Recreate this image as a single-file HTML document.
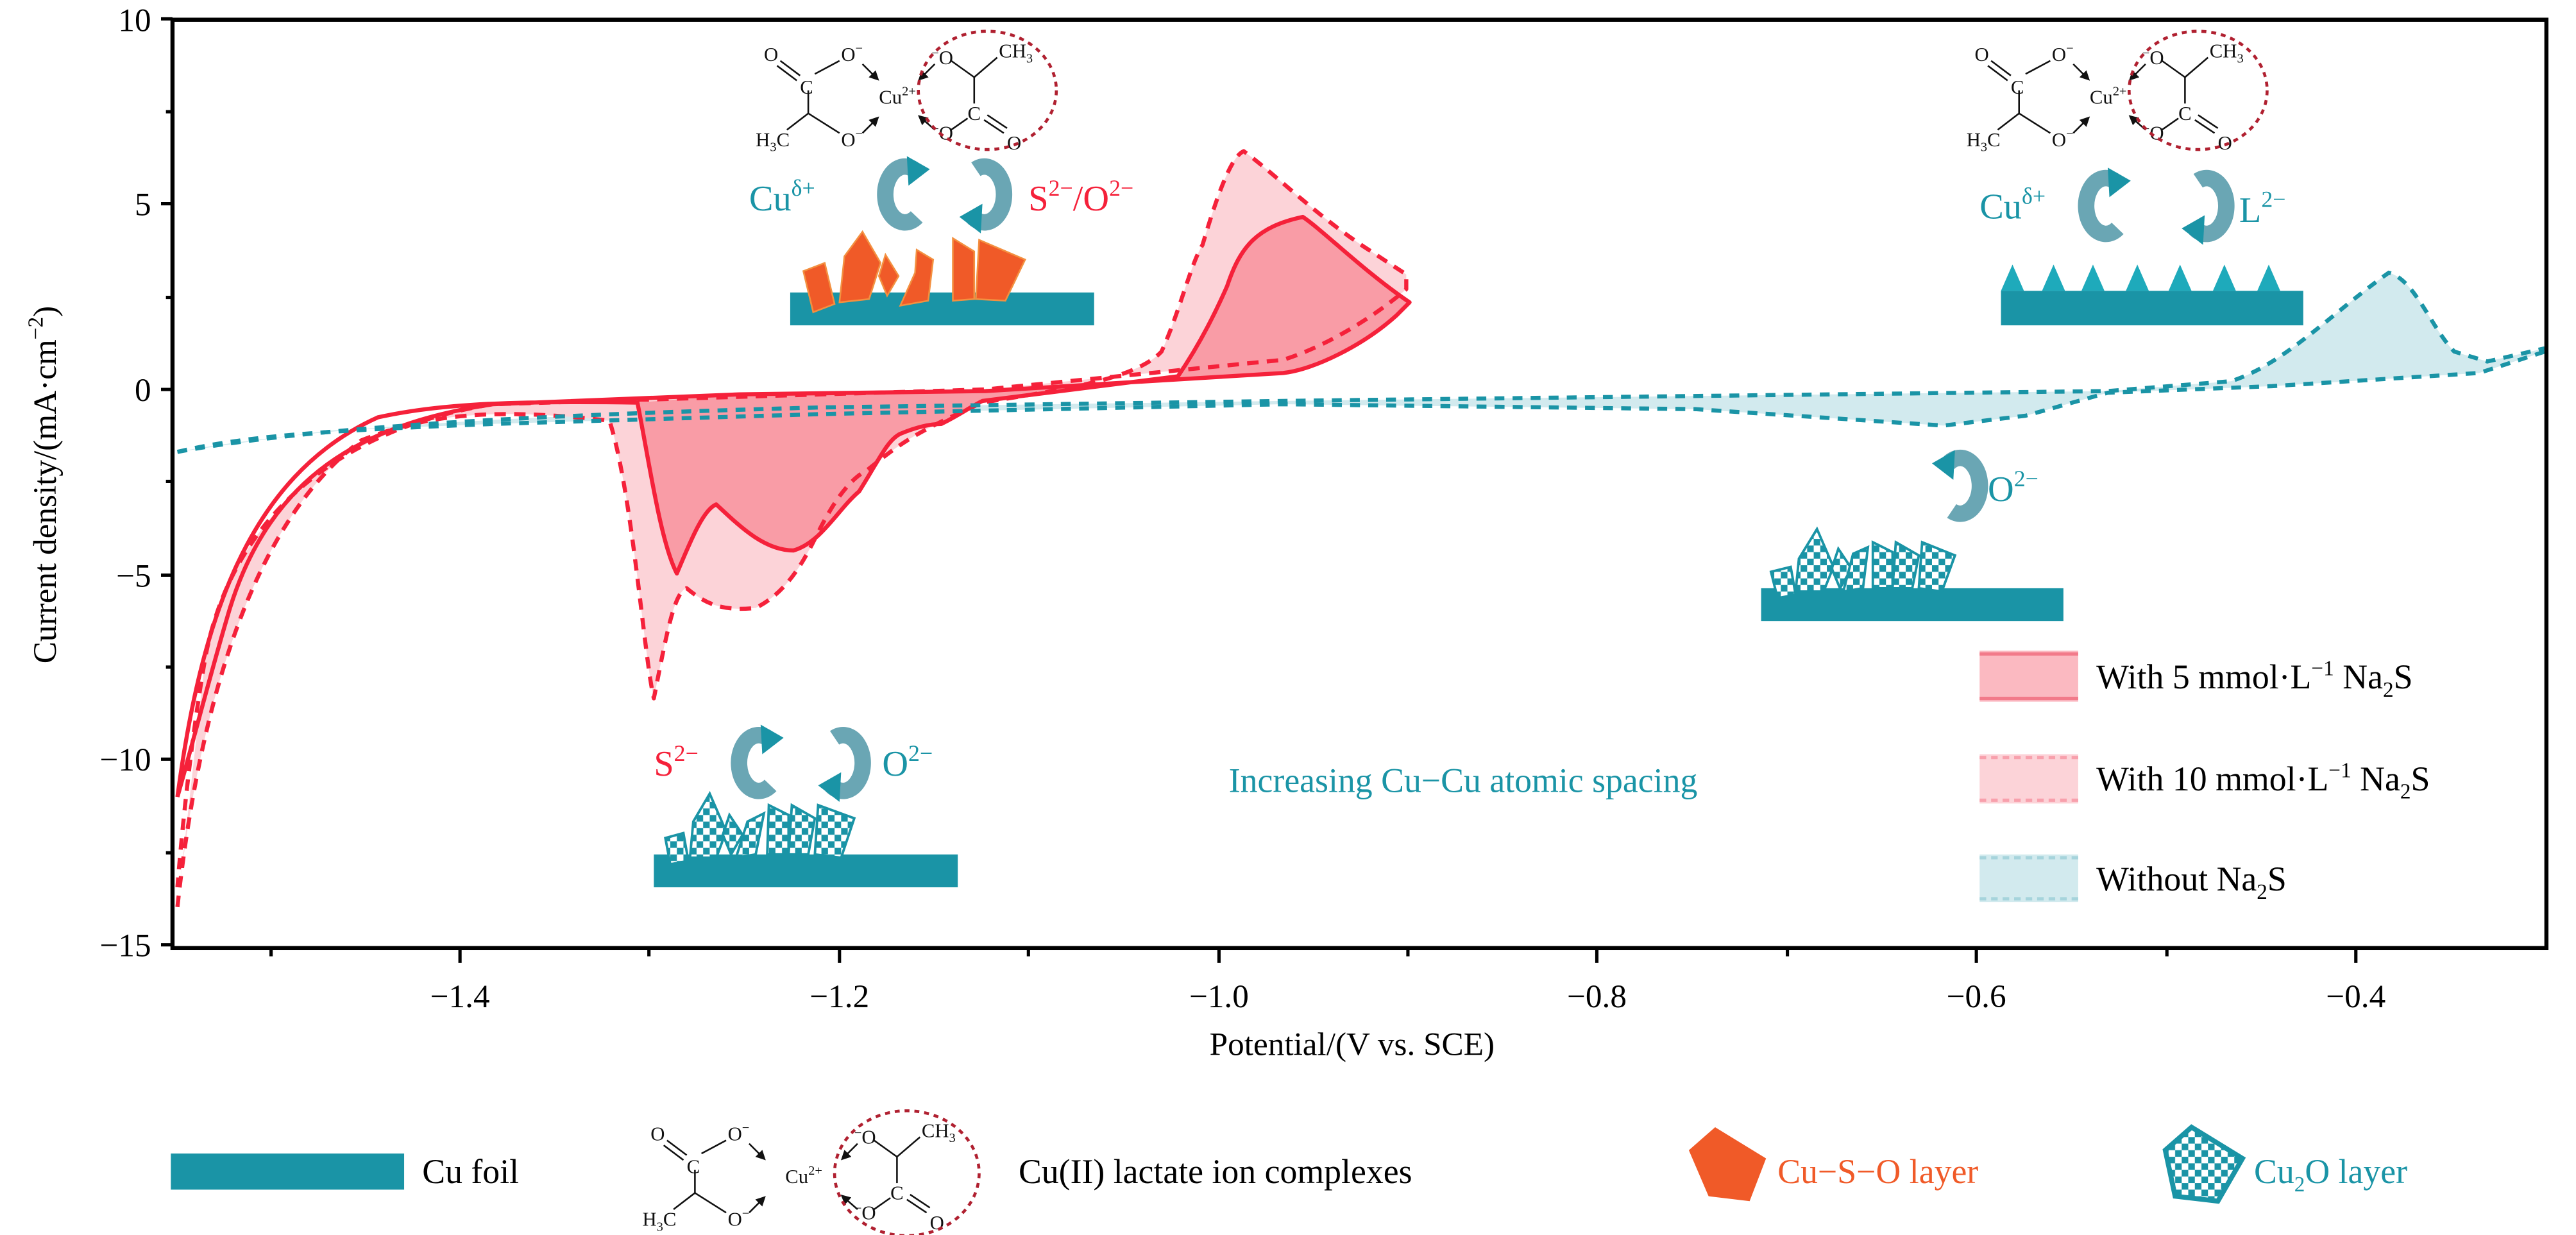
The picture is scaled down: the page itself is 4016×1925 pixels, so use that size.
<!DOCTYPE html>
<html><head><meta charset="utf-8"><style>
html,body{margin:0;padding:0;background:#fff}
svg{display:block}
svg text{font-family:"Liberation Serif","Times New Roman",serif}
</style></head><body>
<svg width="4016" height="1925" viewBox="0 0 4016 1925" xmlns="http://www.w3.org/2000/svg" font-family="Liberation Serif, serif">
<defs>
<pattern id="chk" width="8" height="8" patternUnits="userSpaceOnUse">
<rect width="8" height="8" fill="#fff"/><rect width="4" height="4" fill="#1a94a6"/><rect x="4" y="4" width="4" height="4" fill="#1a94a6"/>
</pattern>
<marker id="ah" markerWidth="6" markerHeight="6" refX="3" refY="3" orient="auto"><path d="M0,0L6,3L0,6z" fill="#111"/></marker>
</defs>
<g transform="scale(2.5612)">
<!-- fills -->
<path d="M108,275 C200,258 350,252 498,248 L781,244 L1283,238 L1358,232 C1390,222 1420,190 1454,166 C1470,170 1480,200 1494,214 L1514,220 L1549,212 L1549,214 L1509,227 L1383,235 L1283,239 L1233,253 L1183,259 L1032,249 L781,246 L500,252 L300,258 L200,262 Z" fill="#d2eaee"/>
<path d="M108,552 C120,440 150,320 220,268 C260,252 300,248 371,256 C385,300 392,400 398,425 C405,390 410,360 418,358 C430,368 440,372 460,370 C480,360 490,340 498,324 C510,300 520,290 528,286 C550,268 560,262 598,245 C640,238 690,232 707,214 C718,190 725,160 732,149 C742,115 750,95 757,92 C775,105 800,130 830,150 L856,167 L856,176 C840,190 810,210 781,219 L600,237 L300,246 C200,262 140,320 125,400 Z" fill="#fcd3d8"/>
<path d="M388,245 C395,280 402,330 412,349 C420,330 428,310 436,307 C450,320 465,335 483,335 C500,330 510,310 523,299 C535,280 540,268 548,264 C560,259 568,258 573,258 C585,252 590,248 598,244 L717,229 C730,210 740,190 747,174 C755,150 765,138 793,132 C805,140 830,165 858,184 L850,192 C830,210 800,225 781,227 L600,238 L450,240 Z" fill="#f99ca6"/>
<!-- curves -->
<g fill="none" stroke="#f5213a" stroke-width="2.5" stroke-linejoin="round">
<path d="M108,485 C122,380 150,290 230,254 C270,245 320,244 388,245 C395,280 402,330 412,349 C420,330 428,310 436,307 C450,320 465,335 483,335 C500,330 510,310 523,299 C535,280 540,268 548,264 C560,259 568,258 573,258 C585,252 590,248 598,244 L717,229 C730,210 740,190 747,174 C755,150 765,138 793,132 C805,140 830,165 858,184 L850,192 C830,210 800,225 781,227 L600,238 L450,240 L300,246 C220,258 165,290 140,370 C128,410 118,450 108,485"/>
</g>
<g fill="none" stroke="#f5213a" stroke-width="2.5" stroke-dasharray="7,5" stroke-linejoin="round">
<path d="M108,552 C120,440 150,320 220,268 C260,252 300,248 371,256 C385,300 392,400 398,425 C405,390 410,360 418,358 C430,368 440,372 460,370 C480,360 490,340 498,324 C510,300 520,290 528,286 C550,268 560,262 598,245 C640,238 690,232 707,214 C718,190 725,160 732,149 C742,115 750,95 757,92 C775,105 800,130 830,150 L856,167 L856,176 C840,190 810,210 781,219 L600,237 L300,246 C200,262 140,320 125,400 C118,440 112,490 108,540"/>
</g>
<g fill="none" stroke="#1a94a6" stroke-width="2.5" stroke-dasharray="6,5">
<path d="M108,275 C200,258 350,252 498,248 L781,244 L1283,238 L1358,232 C1390,222 1420,190 1454,166 C1470,170 1480,200 1494,214 L1514,220 L1549,212"/>
<path d="M108,275 C150,265 200,262 300,258 L500,252 L781,246 L1032,249 L1183,259 L1233,253 L1283,239 L1383,235 L1509,227 L1549,214"/>
</g>
<!-- axes -->
<rect x="105" y="12" width="1445" height="565" fill="none" stroke="#000" stroke-width="2.5"/>
<g stroke="#000" stroke-width="2">
<line x1="105" y1="11.5" x2="98" y2="11.5"/><line x1="105" y1="124" x2="98" y2="124"/><line x1="105" y1="237" x2="98" y2="237"/><line x1="105" y1="350" x2="98" y2="350"/><line x1="105" y1="462" x2="98" y2="462"/><line x1="105" y1="575" x2="98" y2="575"/>
<line x1="105" y1="68" x2="101" y2="68"/><line x1="105" y1="181" x2="101" y2="181"/><line x1="105" y1="293" x2="101" y2="293"/><line x1="105" y1="406" x2="101" y2="406"/><line x1="105" y1="519" x2="101" y2="519"/>
<line x1="280" y1="577" x2="280" y2="586"/><line x1="511" y1="577" x2="511" y2="586"/><line x1="742" y1="577" x2="742" y2="586"/><line x1="972" y1="577" x2="972" y2="586"/><line x1="1203" y1="577" x2="1203" y2="586"/><line x1="1434" y1="577" x2="1434" y2="586"/>
<line x1="165" y1="577" x2="165" y2="582"/><line x1="395" y1="577" x2="395" y2="582"/><line x1="626" y1="577" x2="626" y2="582"/><line x1="857" y1="577" x2="857" y2="582"/><line x1="1088" y1="577" x2="1088" y2="582"/><line x1="1319" y1="577" x2="1319" y2="582"/>
</g>
<g font-size="20" text-anchor="end" fill="#000">
<text x="92" y="19">10</text><text x="92" y="131">5</text><text x="92" y="244">0</text><text x="92" y="357">−5</text><text x="92" y="469">−10</text><text x="92" y="582">−15</text>
</g>
<g font-size="20" text-anchor="middle" fill="#000">
<text x="280" y="613">−1.4</text><text x="511" y="613">−1.2</text><text x="742" y="613">−1.0</text><text x="972" y="613">−0.8</text><text x="1203" y="613">−0.6</text><text x="1434" y="613">−0.4</text>
<text x="823" y="642">Potential/(V vs. SCE)</text>
<text transform="translate(34,295) rotate(-90)">Current density/(mA·cm<tspan dy="-8" font-size="13">−2</tspan><tspan dy="8">)</tspan></text>
</g>

<!-- molecule 1 -->
<g transform="translate(465,17)" font-size="12" fill="#111">
<g stroke="#111" stroke-width="1" fill="none">
<line x1="10" y1="20" x2="22" y2="29"/><line x1="8" y1="23" x2="20" y2="32"/>
<line x1="31" y1="28" x2="46" y2="20"/><line x1="27" y1="38" x2="27" y2="52"/>
<line x1="27" y1="52" x2="14" y2="62"/><line x1="27" y1="52" x2="46" y2="64"/>
<line x1="60" y1="22" x2="68" y2="30" marker-end="url(#ah)"/><line x1="60" y1="64" x2="68" y2="56" marker-end="url(#ah)"/>
<line x1="104" y1="22" x2="96" y2="30" marker-end="url(#ah)"/><line x1="104" y1="62" x2="96" y2="55" marker-end="url(#ah)"/>
<line x1="114" y1="20" x2="128" y2="30"/><line x1="128" y1="30" x2="142" y2="18"/><line x1="128" y1="30" x2="128" y2="46"/>
<line x1="114" y1="62" x2="124" y2="55"/><line x1="134" y1="56" x2="146" y2="64"/><line x1="136" y1="53" x2="148" y2="61"/>
</g>
<text x="0" y="20">O</text><text x="22" y="40">C</text><text x="47" y="20">O<tspan dy="-5" font-size="8">−</tspan></text>
<text x="-5" y="72">H<tspan dy="3" font-size="8">3</tspan><tspan dy="-3">C</tspan></text><text x="47" y="72">O<tspan dy="-5" font-size="8">−</tspan></text>
<text x="70" y="46">Cu<tspan dy="-5" font-size="8">2+</tspan></text>
<text x="102" y="22"><tspan font-size="8" dy="-4">−</tspan><tspan dy="4">O</tspan></text><text x="143" y="18">CH<tspan dy="3" font-size="8">3</tspan></text>
<text x="102" y="68"><tspan font-size="8" dy="-4">−</tspan><tspan dy="4">O</tspan></text><text x="124" y="56">C</text><text x="148" y="74">O</text>
<ellipse cx="136" cy="38" rx="42" ry="36" fill="none" stroke="#b02030" stroke-width="1.8" stroke-dasharray="3,3"/>
</g>
<!-- molecule 2 -->
<g transform="translate(1202,17)" font-size="12" fill="#111">
<g stroke="#111" stroke-width="1" fill="none">
<line x1="10" y1="20" x2="22" y2="29"/><line x1="8" y1="23" x2="20" y2="32"/>
<line x1="31" y1="28" x2="46" y2="20"/><line x1="27" y1="38" x2="27" y2="52"/>
<line x1="27" y1="52" x2="14" y2="62"/><line x1="27" y1="52" x2="46" y2="64"/>
<line x1="60" y1="22" x2="68" y2="30" marker-end="url(#ah)"/><line x1="60" y1="64" x2="68" y2="56" marker-end="url(#ah)"/>
<line x1="104" y1="22" x2="96" y2="30" marker-end="url(#ah)"/><line x1="104" y1="62" x2="96" y2="55" marker-end="url(#ah)"/>
<line x1="114" y1="20" x2="128" y2="30"/><line x1="128" y1="30" x2="142" y2="18"/><line x1="128" y1="30" x2="128" y2="46"/>
<line x1="114" y1="62" x2="124" y2="55"/><line x1="134" y1="56" x2="146" y2="64"/><line x1="136" y1="53" x2="148" y2="61"/>
</g>
<text x="0" y="20">O</text><text x="22" y="40">C</text><text x="47" y="20">O<tspan dy="-5" font-size="8">−</tspan></text>
<text x="-5" y="72">H<tspan dy="3" font-size="8">3</tspan><tspan dy="-3">C</tspan></text><text x="47" y="72">O<tspan dy="-5" font-size="8">−</tspan></text>
<text x="70" y="46">Cu<tspan dy="-5" font-size="8">2+</tspan></text>
<text x="102" y="22"><tspan font-size="8" dy="-4">−</tspan><tspan dy="4">O</tspan></text><text x="143" y="18">CH<tspan dy="3" font-size="8">3</tspan></text>
<text x="102" y="68"><tspan font-size="8" dy="-4">−</tspan><tspan dy="4">O</tspan></text><text x="124" y="56">C</text><text x="148" y="74">O</text>
<ellipse cx="136" cy="38" rx="42" ry="36" fill="none" stroke="#b02030" stroke-width="1.8" stroke-dasharray="3,3"/>
</g>
<!-- molecule 3 (legend) -->
<g transform="translate(396,674)" font-size="12" fill="#111">
<g stroke="#111" stroke-width="1" fill="none">
<line x1="10" y1="20" x2="22" y2="29"/><line x1="8" y1="23" x2="20" y2="32"/>
<line x1="31" y1="28" x2="46" y2="20"/><line x1="27" y1="38" x2="27" y2="52"/>
<line x1="27" y1="52" x2="14" y2="62"/><line x1="27" y1="52" x2="46" y2="64"/>
<line x1="60" y1="22" x2="68" y2="30" marker-end="url(#ah)"/><line x1="60" y1="64" x2="68" y2="56" marker-end="url(#ah)"/>
<line x1="126" y1="22" x2="118" y2="30" marker-end="url(#ah)"/><line x1="126" y1="62" x2="118" y2="55" marker-end="url(#ah)"/>
<line x1="136" y1="20" x2="150" y2="30"/><line x1="150" y1="30" x2="164" y2="18"/><line x1="150" y1="30" x2="150" y2="46"/>
<line x1="136" y1="62" x2="146" y2="55"/><line x1="156" y1="56" x2="168" y2="64"/><line x1="158" y1="53" x2="170" y2="61"/>
</g>
<text x="0" y="20">O</text><text x="22" y="40">C</text><text x="47" y="20">O<tspan dy="-5" font-size="8">−</tspan></text>
<text x="-5" y="72">H<tspan dy="3" font-size="8">3</tspan><tspan dy="-3">C</tspan></text><text x="47" y="72">O<tspan dy="-5" font-size="8">−</tspan></text>
<text x="82" y="46">Cu<tspan dy="-5" font-size="8">2+</tspan></text>
<text x="124" y="22"><tspan font-size="8" dy="-4">−</tspan><tspan dy="4">O</tspan></text><text x="165" y="18">CH<tspan dy="3" font-size="8">3</tspan></text>
<text x="124" y="68"><tspan font-size="8" dy="-4">−</tspan><tspan dy="4">O</tspan></text><text x="146" y="56">C</text><text x="170" y="74">O</text>
<ellipse cx="156" cy="40" rx="44" ry="38" fill="none" stroke="#b02030" stroke-width="1.8" stroke-dasharray="3,3"/>
</g>

<!-- curved arrows -->
<g fill="none" stroke="#6aa6b4" stroke-width="10" stroke-linecap="butt">
<path d="M556,103 A12,17 0 1 0 558,132"/><path d="M592,132 A12,17 0 1 0 594,103"/>
<path d="M1287,110 A12,17 0 1 0 1289,139"/><path d="M1336,139 A12,17 0 1 0 1338,110"/>
<path d="M1186,282 A12,17 0 1 1 1188,311"/>
<path d="M467,449 A12,17 0 1 0 469,478"/><path d="M506,478 A12,17 0 1 0 508,449"/>
</g>
<g fill="#1a94a6">
<path d="M552,95 L566,103 L553,113z"/><path d="M598,124 L584,132 L597,142z"/>
<path d="M1283,102 L1297,110 L1284,120z"/><path d="M1342,131 L1328,139 L1341,149z"/>
<path d="M1190,274 L1176,282 L1189,292z"/>
<path d="M463,441 L477,449 L464,459z"/><path d="M512,470 L498,478 L511,488z"/>
</g>
<!-- ion labels -->
<g font-size="22">
<text x="456" y="128" fill="#1a94a6">Cu<tspan dy="-9" font-size="14">δ+</tspan></text>
<text x="626" y="128" fill="#f5213a">S<tspan dy="-9" font-size="14">2−</tspan><tspan dy="9">/O</tspan><tspan dy="-9" font-size="14">2−</tspan></text>
<text x="1205" y="133" fill="#1a94a6">Cu<tspan dy="-9" font-size="14">δ+</tspan></text>
<text x="1363" y="135" fill="#1a94a6">L<tspan dy="-9" font-size="14">2−</tspan></text>
<text x="1210" y="305" fill="#1a94a6">O<tspan dy="-9" font-size="14">2−</tspan></text>
<text x="398" y="472" fill="#f5213a">S<tspan dy="-9" font-size="14">2−</tspan></text>
<text x="537" y="472" fill="#1a94a6">O<tspan dy="-9" font-size="14">2−</tspan></text>
<text x="748" y="482" fill="#1a94a6" font-size="21">Increasing Cu−Cu atomic spacing</text>
</g>
<!-- bars & crystals -->
<rect x="481" y="178" width="185" height="20" fill="#1a94a6"/>
<g fill="#f05a28" stroke="#f39040" stroke-width="1">
<polygon points="489,165 502,160 508,185 495,190"/><polygon points="514,156 525,141 536,160 529,182 511,184"/>
<polygon points="539,155 547,168 540,180 535,168"/><polygon points="558,152 568,158 565,183 548,186 557,166"/>
<polygon points="580,145 593,153 593,182 580,183"/><polygon points="596,146 624,158 612,183 594,182"/>
</g>
<rect x="1218" y="177" width="184" height="21" fill="#1a94a6"/>
<g fill="#1eaabb">
<polygon points="1218,177 1225,161 1232,177"/><polygon points="1243,177 1250,161 1257,177"/><polygon points="1267,177 1274,161 1281,177"/><polygon points="1294,177 1301,161 1308,177"/><polygon points="1320,177 1327,161 1334,177"/><polygon points="1347,177 1354,161 1361,177"/><polygon points="1374,177 1381,161 1388,177"/>
</g>
<rect x="1072" y="358" width="184" height="20" fill="#1a94a6"/>
<g fill="url(#chk)" stroke="#1a94a6" stroke-width="1.5">
<polygon points="1078,348 1090,345 1093,362 1082,364"/><polygon points="1095,340 1106,322 1116,345 1110,360 1093,360"/>
<polygon points="1119,334 1127,346 1120,358 1115,346"/><polygon points="1128,337 1137,333 1134,358 1122,360"/>
<polygon points="1140,330 1152,336 1152,358 1140,358"/><polygon points="1154,330 1168,338 1164,358 1152,358"/><polygon points="1170,330 1190,338 1182,360 1168,358"/>
</g>
<rect x="398" y="520" width="185" height="20" fill="#1a94a6"/>
<g fill="url(#chk)" stroke="#1a94a6" stroke-width="1.5">
<polygon points="405,510 416,507 419,524 408,526"/><polygon points="422,500 432,483 442,506 436,522 420,522"/>
<polygon points="444,496 452,508 445,520 440,508"/><polygon points="455,500 465,495 460,520 448,522"/>
<polygon points="468,490 480,496 480,520 467,520"/><polygon points="482,490 496,498 492,520 480,520"/><polygon points="498,490 520,498 512,522 496,520"/>
</g>
<!-- legend right -->
<rect x="1205" y="396" width="60" height="31" fill="#fbb9c1"/>
<line x1="1205" y1="398" x2="1265" y2="398" stroke="#f27a8a" stroke-width="2"/><line x1="1205" y1="425" x2="1265" y2="425" stroke="#f27a8a" stroke-width="2"/>
<rect x="1205" y="459" width="60" height="30" fill="#fcd3d8"/>
<line x1="1205" y1="461" x2="1265" y2="461" stroke="#f8a0ac" stroke-width="2" stroke-dasharray="4,3"/><line x1="1205" y1="487" x2="1265" y2="487" stroke="#f8a0ac" stroke-width="2" stroke-dasharray="4,3"/>
<rect x="1205" y="520" width="60" height="29" fill="#d2eaee"/>
<line x1="1205" y1="522" x2="1265" y2="522" stroke="#a6d4dc" stroke-width="2" stroke-dasharray="4,3"/><line x1="1205" y1="547" x2="1265" y2="547" stroke="#a6d4dc" stroke-width="2" stroke-dasharray="4,3"/>
<g font-size="21" fill="#000">
<text x="1276" y="419">With 5 mmol·L<tspan dy="-8" font-size="13">−1</tspan><tspan dy="8"> Na</tspan><tspan dy="5" font-size="13">2</tspan><tspan dy="-5">S</tspan></text>
<text x="1276" y="481">With 10 mmol·L<tspan dy="-8" font-size="13">−1</tspan><tspan dy="8"> Na</tspan><tspan dy="5" font-size="13">2</tspan><tspan dy="-5">S</tspan></text>
<text x="1276" y="542">Without Na<tspan dy="5" font-size="13">2</tspan><tspan dy="-5">S</tspan></text>
</g>
<!-- bottom legend -->
<rect x="104" y="702" width="142" height="22" fill="#1a94a6"/>
<g font-size="21">
<text x="257" y="720" fill="#000">Cu foil</text>
<text x="620" y="720" fill="#000">Cu(II) lactate ion complexes</text>
<text x="1082" y="720" fill="#f05a28">Cu−S−O layer</text>
<text x="1372" y="720" fill="#1a94a6">Cu<tspan dy="5" font-size="13">2</tspan><tspan dy="-5">O layer</tspan></text>
</g>
<polygon points="1044,686 1075,705 1065,731 1040,728 1028,700" fill="#f05a28"/>
<polygon points="1334,686 1365,705 1350,731 1324,728 1318,700" fill="url(#chk)" stroke="#1a94a6" stroke-width="3"/>
</g>
</svg>
</body></html>
